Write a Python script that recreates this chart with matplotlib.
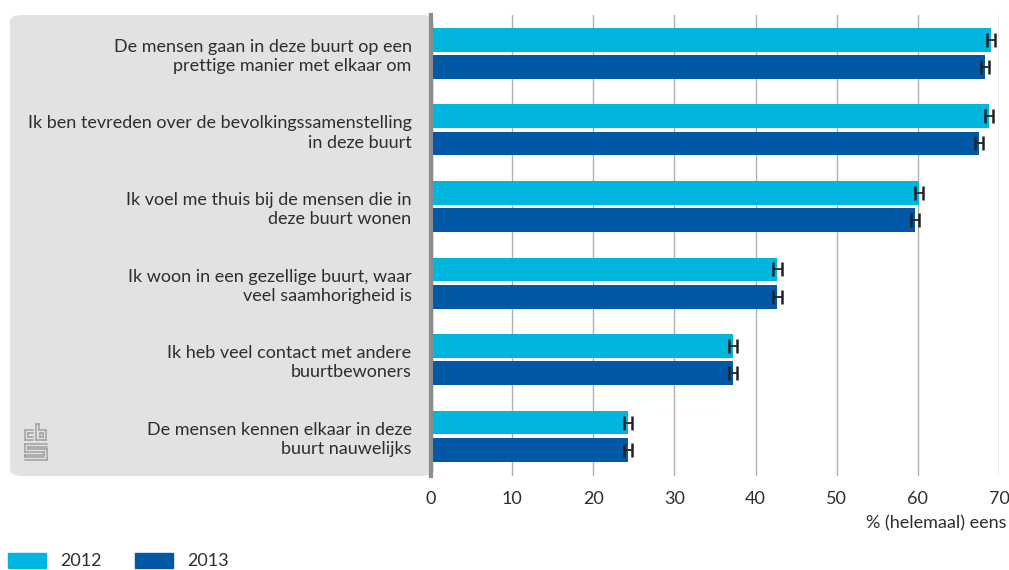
import numpy as np
import matplotlib.pyplot as plt
from matplotlib.patches import FancyBboxPatch, Rectangle
from matplotlib.lines import Line2D

plt.rcParams['font.family'] = ['Lato', 'DejaVu Sans']

categories = [
    "De mensen gaan in deze buurt op een\nprettige manier met elkaar om",
    "Ik ben tevreden over de bevolkingssamenstelling\nin deze buurt",
    "Ik voel me thuis bij de mensen die in\ndeze buurt wonen",
    "Ik woon in een gezellige buurt, waar\nveel saamhorigheid is",
    "Ik heb veel contact met andere\nbuurtbewoners",
    "De mensen kennen elkaar in deze\nbuurt nauwelijks",
]
values_2012 = [69.0, 68.8, 60.1, 42.7, 37.2, 24.3]
values_2013 = [68.3, 67.5, 59.6, 42.7, 37.2, 24.3]
err_2012 = [0.5, 0.5, 0.5, 0.5, 0.5, 0.5]
err_2013 = [0.5, 0.5, 0.5, 0.5, 0.5, 0.5]
xticks = [0, 10, 20, 30, 40, 50, 60, 70]

c2012 = "#00b5de"
c2013 = "#0058a6"
txt = "#2e2e2e"
fs = 13

fig = plt.figure(figsize=(10.09, 5.70), dpi=100)
W, H = 1009, 570

# grey label panel
panel = FancyBboxPatch((10 / W, 1 - 476 / H), (434 - 10) / W, (476 - 15) / H,
                       boxstyle="round,pad=0,rounding_size=0.012",
                       transform=fig.transFigure, facecolor="#e1e2e4",
                       edgecolor="none", zorder=0)
fig.patches.append(panel)

ax = fig.add_axes([431 / W, 1 - 476 / H, (999 - 431) / W, (476 - 15) / H])
ax.set_zorder(2)
ax.patch.set_alpha(0)

y = np.arange(len(categories))
h = 0.31
off = 0.178
ax.barh(y - off, values_2012, height=h, color=c2012, zorder=3)
ax.barh(y + off, values_2013, height=h, color=c2013, zorder=3)
ax.errorbar(values_2012, y - off, xerr=err_2012, fmt="none", ecolor="#222222",
            elinewidth=1.3, capsize=5, capthick=1.8, zorder=4)
ax.errorbar(values_2013, y + off, xerr=err_2013, fmt="none", ecolor="#222222",
            elinewidth=1.3, capsize=5, capthick=1.8, zorder=4)

ax.set_xlim(0, 70)
ax.set_ylim(5.52, -0.5)
ax.set_xticks(xticks)
ax.set_xticklabels([str(t) for t in xticks], fontsize=fs, color=txt)
ax.set_yticks(y)
ax.set_yticklabels(categories, fontsize=fs, color=txt, linespacing=1.25)
ax.tick_params(axis="y", length=0, pad=14)
ax.tick_params(axis="x", length=0, pad=11)
ax.grid(axis="x", color="#b0b0b0", linewidth=1, zorder=1)
for s in ["top", "right", "bottom"]:
    ax.spines[s].set_visible(False)
ax.spines["left"].set_color("#8c8c8c")
ax.spines["left"].set_linewidth(3)
ax.spines["left"].set_zorder(5)

fig.text(1007 / W, 1 - 523 / H, "% (helemaal) eens", ha="right", va="center",
         fontsize=fs, color=txt)

# legend
fig.patches.append(Rectangle((8 / W, 1 - 568 / H), 38 / W, 15 / H,
                             transform=fig.transFigure, color=c2012))
fig.text(60 / W, 1 - 561 / H, "2012", ha="left", va="center", fontsize=fs, color=txt)
fig.patches.append(Rectangle((135 / W, 1 - 568 / H), 38 / W, 15 / H,
                             transform=fig.transFigure, color=c2013))
fig.text(187 / W, 1 - 561 / H, "2013", ha="left", va="center", fontsize=fs, color=txt)

# small logo sketch
lc = "#a0a0a0"
def seg(x0, y0, x1, y1):
    fig.lines.append(Line2D([x0 / W, x1 / W], [1 - y0 / H, 1 - y1 / H],
                            transform=fig.transFigure, color=lc, linewidth=1.1))
# c
seg(25, 430, 25, 440); seg(25, 430, 33, 430); seg(25, 440, 33, 440)
seg(28, 433, 28, 437); seg(28, 433, 33, 433); seg(28, 437, 33, 437)
# b
seg(36, 424, 36, 440); seg(36, 424, 39, 424); seg(39, 424, 39, 430)
seg(39, 430, 46, 430); seg(46, 430, 46, 440); seg(36, 440, 46, 440)
seg(40, 433, 43, 433); seg(43, 433, 43, 437); seg(40, 437, 43, 437); seg(40, 433, 40, 437)
# s
seg(25, 444, 47, 444); seg(25, 444, 25, 452); seg(25, 452, 44, 452)
seg(28, 447, 47, 447); seg(28, 447, 28, 449); seg(28, 449, 47, 449)
seg(47, 449, 47, 460); seg(25, 460, 47, 460); seg(25, 455, 44, 455)
seg(44, 452, 44, 455); seg(25, 455, 25, 457); seg(25, 457, 44, 457)

fig.savefig("out.png", dpi=100)
